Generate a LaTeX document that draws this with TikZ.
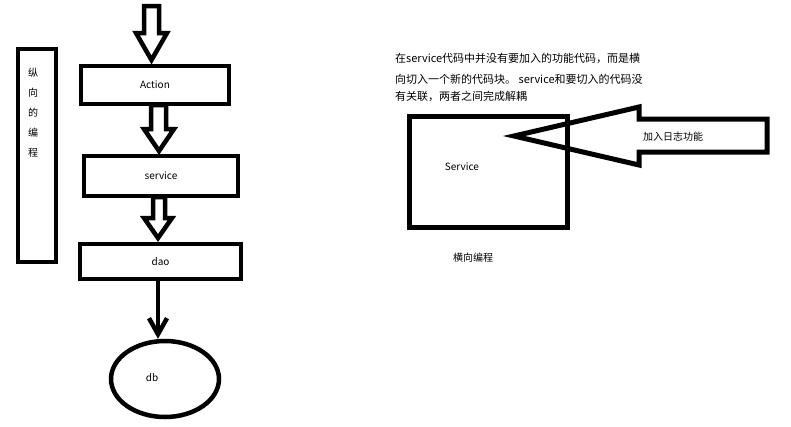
\documentclass[tikz,border=0pt]{standalone}
\usepackage{fontspec}
\setmainfont{Noto Sans CJK SC}
\usetikzlibrary{arrows.meta,shapes.geometric}
\tikzset{
  box/.style={draw,line width=4.5pt,inner sep=0pt},
  txt/.style={font=\fontsize{10}{12}\selectfont,inner sep=0pt},
  para/.style={font=\fontsize{11}{13}\selectfont,inner sep=0pt,anchor=west},
  hollow/.style={draw,line width=4.5pt,line join=miter,fill=white},
}
\begin{document}
\begin{tikzpicture}[x=1pt,y=-1pt]
\useasboundingbox (0,0) rectangle (791,426);
% vertical box
\draw[box] (18,49) rectangle (56,262);
\foreach \c [count=\i from 0] in {纵,向,的,编,程}
  \node[txt] (v\i) at (33,{73+20*\i}) {\c};
% boxes
\node[box,minimum width=148pt,minimum height=38pt] (action) at (155,85) {};
\node[txt] at (action.center) {Action};
\node[box,minimum width=154pt,minimum height=40pt] (service) at (161,176) {};
\node[txt] at (service.center) {service};
\node[box,minimum width=161pt,minimum height=35pt] (dao) at (160.5,261.5) {};
\node[txt] at (dao.center) {dao};
\node[draw,line width=4.5pt,ellipse,minimum width=108pt,minimum height=76pt,inner sep=0pt] (db) at (165,379) {};
\node[txt] at (152,378) {db};
% hollow arrows
\draw[hollow] (144,6) -- (159,6) -- (159,33) -- (167,33) -- (151.5,60) -- (136,33) -- (144,33) -- cycle;
\draw[hollow] (151,105) -- (166,105) -- (166,129) -- (174,129) -- (159,151) -- (144,129) -- (151,129) -- cycle;
\draw[hollow] (153,197) -- (165,197) -- (165,218) -- (172,218) -- (158,238) -- (144,218) -- (153,218) -- cycle;
% connector dao -> db
\draw[line width=4.5pt,-{Straight Barb[length=16pt,width=18pt,line width=4.5pt]}]
  ([xshift=-2.5pt]dao.south) -- ([xshift=-2.5pt]dao.south |- db.north);
% right side
\node[para] (p1) at (395,58) {在service代码中并没有要加入的功能代码，而是横};
\node[para] (p2) at (395,79) {向切入一个新的代码块。 service和要切入的代码没};
\node[para] (p3) at (395,96) {有关联，两者之间完成解耦};
\node[draw,line width=5pt,minimum width=158pt,minimum height=111pt,inner sep=0pt] (svc) at (488,171.5) {};
\node[txt] at (462,167) {Service};
\draw[hollow,line width=5pt,fill=none] (514,136) -- (639,107) -- (639,119) -- (767,119) -- (767,152) -- (639,152) -- (639,165) -- cycle;
\node[txt] (log) at (673,137) {加入日志功能};
\node[txt] (hx) at (473,258) {横向编程};
\end{tikzpicture}
\end{document}
